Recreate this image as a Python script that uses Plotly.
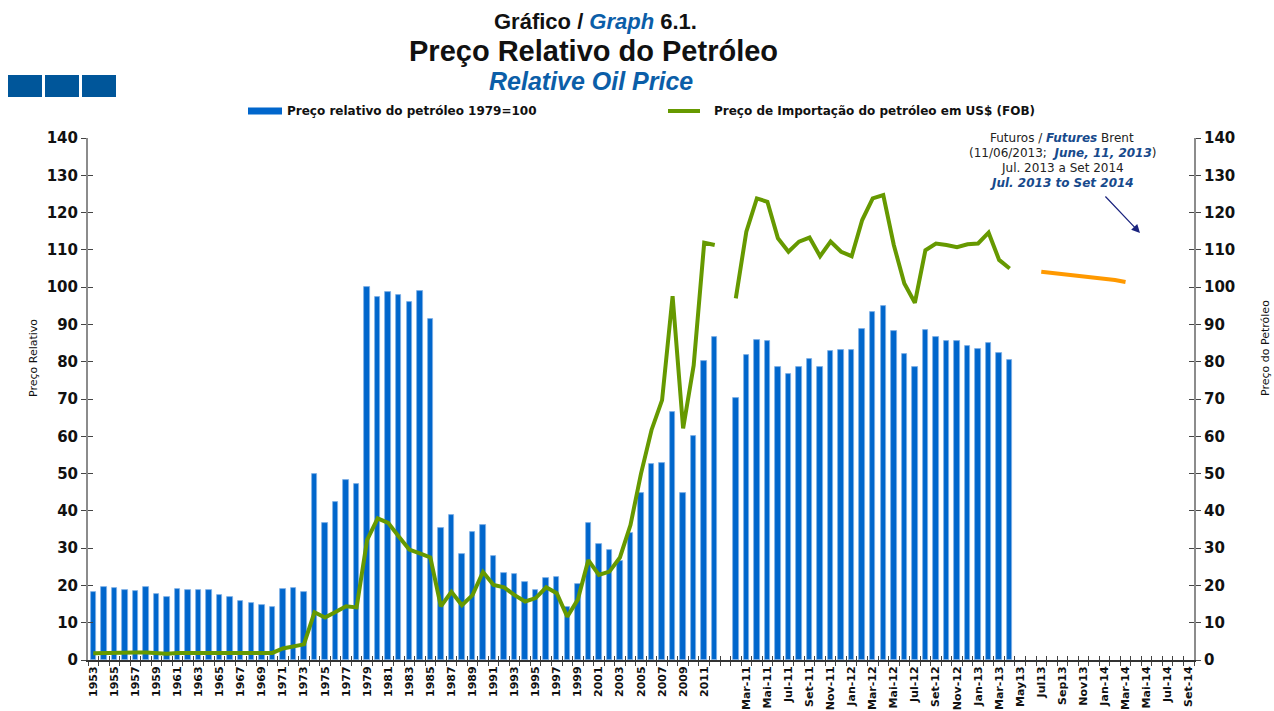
import plotly.graph_objects as go

# ---- categories -------------------------------------------------------------
years = [str(y) for y in range(1953, 2013)]
months_hist = ["Fev-11", "Mar-11", "Abr-11", "Mai-11", "Jun-11", "Jul-11", "Ago-11",
               "Set-11", "Out-11", "Nov-11", "Dez-11", "Jan-12", "Fev-12", "Mar-12",
               "Abr-12", "Mai-12", "Jun-12", "Jul-12", "Ago-12", "Set-12", "Out-12",
               "Nov-12", "Dez-12", "Jan-13", "Fev-13", "Mar-13", "Abr-13"]
months_fut = ["May13", "Jun13", "Jul13", "Aug13", "Sep13", "Oct13", "Nov13", "Dec13",
              "Jan-14", "Fev-14", "Mar-14", "Abr-14", "Mai-14", "Jun-14", "Jul-14",
              "Ago-14", "Set-14"]

# ---- series -----------------------------------------------------------------
# relative oil price, 1979 = 100 (annual 1953-2012)
rel_annual = [18.3, 19.7, 19.4, 18.9, 18.6, 19.7, 17.8, 16.8, 19.1, 18.9,
              18.9, 18.7, 17.5, 17.0, 15.9, 15.3, 14.8, 14.3, 19.1, 19.4,
              18.3, 50.0, 36.8, 42.5, 48.4, 47.3, 100.0, 97.4, 98.7, 97.9,
              96.1, 98.9, 91.4, 35.5, 39.0, 28.5, 34.4, 36.2, 28.0, 23.4,
              23.1, 20.8, 18.9, 21.9, 22.2, 14.2, 20.5, 36.8, 31.2, 29.6,
              26.5, 34.1, 44.9, 52.7, 52.9, 66.4, 44.7, 60.0, 80.2, 86.5]
# relative oil price, monthly Feb-11 .. Apr-13
rel_monthly = [70.2, 81.7, 85.7, 85.5, 78.7, 76.8, 78.5, 80.8, 78.7, 82.9,
               83.2, 83.2, 88.9, 93.4, 95.0, 88.3, 82.2, 78.5, 88.5, 86.5,
               85.6, 85.6, 84.3, 83.4, 85.1, 82.4, 80.4]

# import price of oil, US$ (FOB)
imp_annual = [1.8, 1.9, 1.9, 2.0, 2.0, 2.0, 1.9, 1.7, 1.9, 1.9,
              1.9, 1.9, 1.9, 1.9, 1.9, 1.9, 1.9, 1.9, 3.1, 3.7,
              4.2, 12.8, 11.4, 12.9, 14.4, 14.1, 32.2, 38.0, 36.8, 33.1,
              29.6, 28.6, 27.5, 14.4, 18.3, 14.7, 17.4, 23.6, 20.1, 19.5,
              17.4, 15.7, 16.6, 19.5, 17.9, 11.6, 16.2, 26.8, 22.8, 23.7,
              27.5, 36.2, 50.0, 61.7, 69.7, 97.6, 62.1, 79.0, 111.9, 111.3]
imp_monthly = [97.0, 114.9, 123.8, 122.9, 113.1, 109.5, 112.2, 113.3, 108.3, 112.2,
               109.5, 108.3, 118.0, 123.8, 124.7, 111.3, 101.0, 95.8, 109.9, 111.7,
               111.3, 110.7, 111.5, 111.7, 114.6, 107.3, 105.0]

# Brent futures (11/06/2013)
futures = [None, None, 104.1, 103.8, 103.5, 103.1, 102.8, 102.5, 102.2, 101.9,
           101.4, None, None, None, None, None, None]

yticks = [0, 10, 20, 30, 40, 50, 60, 70, 80, 90, 100, 110, 120, 130, 140]

# ---- assemble the shared category axis ---------------------------------------
cats = years + [""] + months_hist + months_fut
n = len(cats)
xs = list(range(n))
none_fut = [None] * len(months_fut)
rel = rel_annual + [None] + rel_monthly + none_fut
imp = imp_annual + [None] + imp_monthly + none_fut
fut = [None] * (len(years) + 1 + len(months_hist)) + futures

BLUE = "#0066cc"
GREEN = "#669900"
ORANGE = "#ff9900"
TITLE_BLUE = "#0b5ea8"
NOTE_BLUE = "#174a8c"

# plot-area pixel frame (used to place the decorations around the chart)
L, R, T, B = 88, 1194, 138, 660


def px(x):
    return (x - L) / (R - L)


def py(y):
    return (B - y) / (B - T)


fig = go.Figure()

fig.add_trace(go.Bar(
    x=xs, y=rel, width=0.52, customdata=cats,
    marker=dict(color=BLUE, line=dict(color="#7fb0e6", width=0.8)),
    name="Preço relativo do petróleo 1979=100", showlegend=False,
    hovertemplate="%{customdata}: %{y}<extra></extra>",
))
fig.add_trace(go.Scatter(
    x=xs, y=imp, mode="lines", yaxis="y2", customdata=cats,
    line=dict(color=GREEN, width=4), connectgaps=False,
    name="Preço de Importação do petróleo em US$ (FOB)", showlegend=False,
    hovertemplate="%{customdata}: %{y}<extra></extra>",
))
fig.add_trace(go.Scatter(
    x=xs, y=fut, mode="lines", yaxis="y2", customdata=cats,
    line=dict(color=ORANGE, width=4), connectgaps=False,
    name="Futuros Brent", showlegend=False,
    hovertemplate="%{customdata}: %{y}<extra></extra>",
))
# empty traces that carry the inner half of the crossing tick marks
for xa, ya in (("x2", "y"), ("x", "y3"), ("x", "y4")):
    fig.add_trace(go.Scatter(x=[], y=[], xaxis=xa, yaxis=ya, showlegend=False,
                             hoverinfo="skip"))

boundaries = [i - 0.5 for i in range(n + 1)]
xr = [-0.5, n - 0.5]
tick_font = dict(family="DejaVu Sans", size=15, color="#111", weight="bold")

fig.update_layout(
    width=1274, height=711,
    margin=dict(l=L, r=1274 - R, t=T, b=711 - B, pad=0),
    paper_bgcolor="white", plot_bgcolor="white",
    bargap=0,
    xaxis=dict(
        range=xr, tickmode="array", tickvals=xs[::2], ticktext=cats[::2],
        tickangle=-90, ticks="", showgrid=False, zeroline=False, automargin=False,
        showline=True, linecolor="#333", linewidth=2,
        tickfont=dict(family="DejaVu Sans", size=11, color="#111", weight="bold"),
        minor=dict(tickmode="array", tickvals=boundaries, ticks="outside",
                   ticklen=4, tickcolor="#444", tickwidth=1, showgrid=False),
    ),
    xaxis2=dict(
        range=xr, overlaying="x", anchor="y", side="bottom", automargin=False,
        tickmode="array", tickvals=boundaries, ticks="inside", ticklen=4,
        tickcolor="#444", showticklabels=False, showline=False,
        showgrid=False, zeroline=False,
    ),
    yaxis=dict(
        range=[0, 140], tickmode="array", tickvals=yticks, automargin=False,
        ticks="outside", ticklen=5, tickcolor="#444",
        showgrid=False, zeroline=False, showline=True,
        linecolor="#8c8c8c", linewidth=2, tickfont=tick_font,
    ),
    yaxis2=dict(
        range=[0, 140], tickmode="array", tickvals=yticks, overlaying="y",
        side="right", anchor="x", ticks="outside", ticklen=5, tickcolor="#444",
        showgrid=False, zeroline=False, showline=True, automargin=False,
        linecolor="#8c8c8c", linewidth=2, tickfont=tick_font,
    ),
    yaxis3=dict(
        range=[0, 140], tickmode="array", tickvals=yticks, overlaying="y",
        side="left", anchor="x", ticks="inside", ticklen=5, tickcolor="#444",
        showticklabels=False, showline=False, showgrid=False, zeroline=False,
        automargin=False,
    ),
    yaxis4=dict(
        range=[0, 140], tickmode="array", tickvals=yticks, overlaying="y",
        side="right", anchor="x", ticks="inside", ticklen=5, tickcolor="#444",
        showticklabels=False, showline=False, showgrid=False, zeroline=False,
        automargin=False,
    ),
    font=dict(family="Liberation Sans", color="#111"),
)

ann = []
# titles
ann.append(dict(x=px(595), y=py(22),
                text="<b>Gráfico / <span style='color:%s'><i>Graph</i></span> 6.1.</b>" % TITLE_BLUE,
                font=dict(family="Liberation Sans", size=22, color="#111")))
ann.append(dict(x=px(593), y=py(51), text="<b>Preço Relativo do Petróleo</b>",
                font=dict(family="Liberation Sans", size=29, color="#111")))
ann.append(dict(x=px(591), y=py(81), text="<b><i>Relative Oil Price</i></b>",
                font=dict(family="Liberation Sans", size=25, color=TITLE_BLUE)))
# legend labels
ann.append(dict(x=px(285), y=py(111), xanchor="left",
                text="<b>Preço relativo do petróleo 1979=100</b>",
                font=dict(family="DejaVu Sans", size=12, color="#111")))
ann.append(dict(x=px(712), y=py(111), xanchor="left",
                text="<b>Preço de Importação do petróleo em US$ (FOB)</b>",
                font=dict(family="DejaVu Sans", size=12, color="#111")))
# axis titles
ann.append(dict(x=px(33), y=py(358), text="Preço Relativo", textangle=-90,
                font=dict(family="DejaVu Sans", size=11, color="#111")))
ann.append(dict(x=px(1265), y=py(348), text="Preço do Petróleo", textangle=-90,
                font=dict(family="DejaVu Sans", size=11, color="#111")))
# futures note
note_lines = [
    "Futuros / <b><i><span style='color:%s'>Futures</span></i></b> Brent" % NOTE_BLUE,
    "(11/06/2013;  <b><i><span style='color:%s'>June, 11, 2013</span></i></b>)" % NOTE_BLUE,
    "Jul. 2013 a Set 2014",
    "<b><i><span style='color:%s'>Jul. 2013 to Set 2014</span></i></b>" % NOTE_BLUE,
]
for k, line in enumerate(note_lines):
    ann.append(dict(x=px(1062), y=py(138 + 15 * k), text=line,
                    font=dict(family="DejaVu Sans", size=12, color="#222")))
for a in ann:
    a.setdefault("xref", "paper")
    a.setdefault("yref", "paper")
    a.setdefault("showarrow", False)
    a.setdefault("xanchor", "center")
    a.setdefault("yanchor", "middle")

ann.append(dict(xref="paper", yref="paper", x=px(1140), y=py(233),
                ax=-36, ay=-38, text="", showarrow=True, arrowhead=2,
                arrowsize=1.4, arrowwidth=1.2, arrowcolor="#1a237e"))
fig.update_layout(annotations=ann)

shapes = []
# header blocks
for x0, x1 in ((8, 42), (45, 79), (82, 116)):
    shapes.append(dict(type="rect", xref="paper", yref="paper",
                       x0=px(x0), x1=px(x1), y0=py(97), y1=py(75),
                       fillcolor="#00569a", line=dict(width=0)))
# legend swatches
shapes.append(dict(type="rect", xref="paper", yref="paper",
                   x0=px(248), x1=px(282), y0=py(114.5), y1=py(107.5),
                   fillcolor=BLUE, line=dict(width=0)))
shapes.append(dict(type="line", xref="paper", yref="paper",
                   x0=px(668), x1=px(700), y0=py(111), y1=py(111),
                   line=dict(color=GREEN, width=4)))
fig.update_layout(shapes=shapes)

fig.write_html("out.html")
